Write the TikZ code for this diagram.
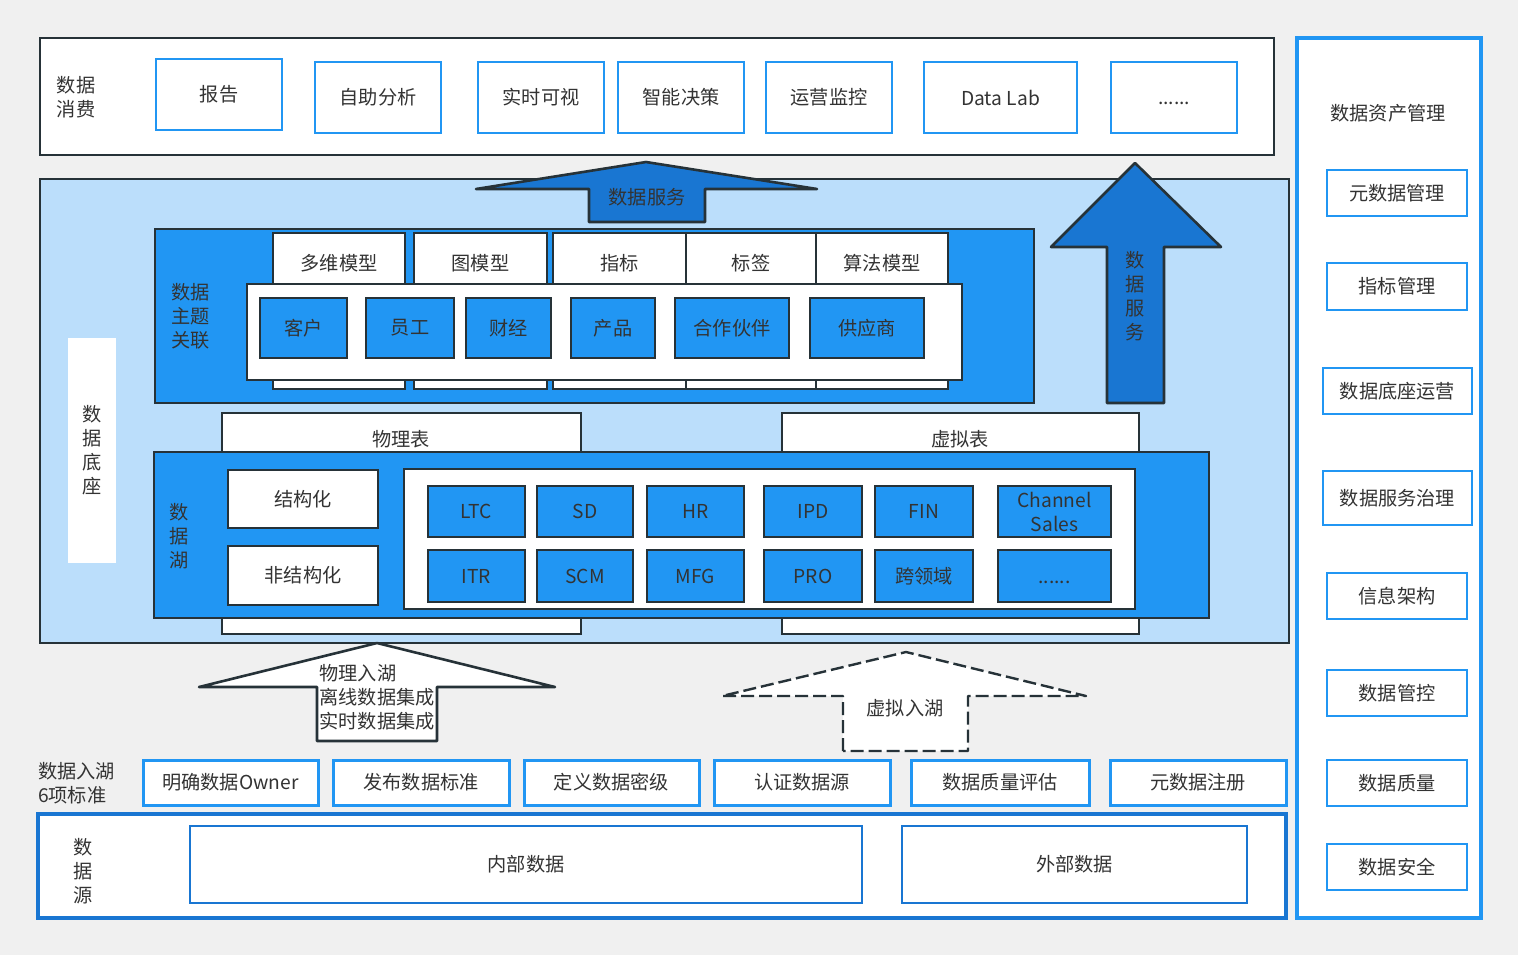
\documentclass[tikz,border=0pt]{standalone}
\usepackage{fontspec}
\setmainfont{Noto Sans CJK SC}
\definecolor{bgGray}{HTML}{F0F0F0}
\definecolor{paleBlue}{HTML}{BBDEFB}
\definecolor{midBlue}{HTML}{2196F3}
\definecolor{deepBlue}{HTML}{1976D2}
\definecolor{edgeDark}{HTML}{263238}
\definecolor{txtGray}{HTML}{333333}
\newcommand\moredots{\vphantom{数}......}
\tikzset{wh/.style 2 args={minimum width=#1*0.5pt, minimum height=#2*0.5pt}}

\begin{document}
\begin{tikzpicture}[x=0.5pt, y=-0.5pt, font=\fontsize{9.6}{12}\selectfont,
	every node/.style={text=txtGray, align=center, inner sep=0pt},
	darkbox/.style={draw=edgeDark, line width=1.3pt, fill=white},
	bluebox/.style={draw=edgeDark, line width=1.3pt, fill=midBlue},
	thinbox/.style={draw=midBlue, line width=1pt, fill=white},
	stdbox/.style={draw=midBlue, line width=1.5pt, fill=white},
	srcbox/.style={draw=deepBlue, line width=1pt, fill=white},
	blockarrow/.style={draw=edgeDark, line width=1.3pt, line join=round}]
	\fill[bgGray] (0,0) rectangle (1518,955);
	\useasboundingbox (0,0) rectangle (1518,955);

	\node[darkbox, wh={1234}{117}] (consumeLayer) at (657,96.5) {};
	\node[align=left] (consumeLbl) at (76,97) {数据\\消费};
	\node[thinbox, wh={126}{71}] (report) at (219,94.5) {报告};
	\node[thinbox, wh={126}{71}] (selfAna) at (378,97.5) {自助分析};
	\node[thinbox, wh={126}{71}] (realView) at (541,97.5) {实时可视};
	\node[thinbox, wh={126}{71}] (smartDec) at (681,97.5) {智能决策};
	\node[thinbox, wh={126}{71}] (opsMon) at (829,97.5) {运营监控};
	\node[thinbox, wh={153}{71}] (dataLab) at (1000.5,97.5) {Data Lab};
	\node[thinbox, wh={126}{71}] (moreUse) at (1174,97.5) {\moredots};

	\node[draw=midBlue, line width=1.6pt, fill=white, wh={184}{880}] (assetMgmt) at (1389,478) {};
	\node (assetLbl) at (1388,113) {数据资产管理};
	\node[thinbox, wh={140}{46}] (metaMgmt) at (1397,193) {元数据管理};
	\node[thinbox, wh={140}{47}] (kpiMgmt) at (1397,286.5) {指标管理};
	\node[thinbox, wh={149}{46}] (baseOps) at (1397.5,391) {数据底座运营};
	\node[thinbox, wh={149}{54}] (svcGov) at (1397.5,498) {数据服务治理};
	\node[thinbox, wh={140}{46}] (infoArch) at (1397,596) {信息架构};
	\node[thinbox, wh={140}{46}] (dataCtl) at (1397,693) {数据管控};
	\node[thinbox, wh={140}{46}] (dataQual) at (1397,783) {数据质量};
	\node[thinbox, wh={140}{46}] (dataSec) at (1397,867) {数据安全};

	\node[darkbox, fill=paleBlue, wh={1249}{464}] (baseLayer) at (664.5,411) {};
	\node[fill=white, wh={48}{225}] (baseLbl) at (92,450.5) {数\\据\\底\\座};

	\node[bluebox, wh={879}{174}] (topicBlock) at (594.5,316) {};
	\node (topicLbl) at (190.5,316.5) {数据\\主题\\关联};
	\node[darkbox, wh={132}{156}] (tabDim) at (339,311) {};
	\node[darkbox, wh={133}{156}] (tabGraph) at (480.5,311) {};
	\node[darkbox, wh={133}{156}] (tabKpi) at (619.5,311) {};
	\node[darkbox, wh={130}{156}] (tabTag) at (751,311) {};
	\node[darkbox, wh={132}{156}] (tabAlgo) at (882,311) {};
	\node (tabDimTxt) at (339,263) {多维模型};
	\node (tabGraphTxt) at (480.5,263) {图模型};
	\node (tabKpiTxt) at (619.5,263) {指标};
	\node (tabTagTxt) at (751,263) {标签};
	\node (tabAlgoTxt) at (882,263) {算法模型};
	\node[darkbox, wh={715}{96}] (topicInner) at (604.5,332) {};
	\node[bluebox, wh={87}{60}] (customer) at (303.5,328) {客户};
	\node[bluebox, wh={88}{60}] (staff) at (410,328) {员工};
	\node[bluebox, wh={85}{60}] (finance) at (508.5,328) {财经};
	\node[bluebox, wh={84}{60}] (product) at (613,328) {产品};
	\node[bluebox, wh={114}{60}] (partner) at (732,328) {合作伙伴};
	\node[bluebox, wh={114}{60}] (supplier) at (867,328) {供应商};

	\draw[blockarrow, fill=deepBlue] (589,222) -- (589,189) -- (476,189) -- (646,162) -- (817,189) -- (705,189) -- (705,222) -- cycle;
	\node (svcTop) at (647,197) {数据服务};
	\draw[blockarrow, fill=deepBlue] (1107,403) -- (1107,247) -- (1051,247) -- (1135,163) -- (1221,247) -- (1164,247) -- (1164,403) -- cycle;
	\node (svcSide) at (1135,296.5) {数\\据\\服\\务};

	\node[darkbox, wh={359}{221}] (physTab) at (401.5,523.5) {};
	\node[darkbox, wh={357}{221}] (virtTab) at (960.5,523.5) {};
	\node (physTabTxt) at (401,439) {物理表};
	\node (virtTabTxt) at (960,439) {虚拟表};
	\node[bluebox, wh={1055}{166}] (lakeBlock) at (681.5,535) {};
	\node (lakeLbl) at (179,536) {数\\据\\湖};
	\node[darkbox, wh={150}{58}] (structured) at (303,499) {结构化};
	\node[darkbox, wh={150}{59}] (unstructured) at (303,575.5) {非结构化};
	\node[darkbox, wh={731}{140}] (lakeInner) at (769.5,539) {};
	\foreach \cx/\w/\up/\dn/\n in {476.5/97/LTC/ITR/ltc, 585/96/SD/SCM/sd, 695.5/97/HR/MFG/hr,
		813/98/IPD/PRO/ipd, 924/98/FIN/跨领域/fin, 1054.5/113/{Channel\\Sales}/\moredots/chs} {
		\node[bluebox, wh={\w}{51}] (\n-up) at (\cx,511.5) {\up};
		\node[bluebox, wh={\w}{52}] (\n-dn) at (\cx,576) {\dn};
	}

	\draw[blockarrow, fill=white] (317,741) -- (317,687) -- (199,687) -- (377,643) -- (555,687) -- (437,687) -- (437,741) -- cycle;
	\node[align=left] (physIn) at (377,697) {物理入湖\\离线数据集成\\实时数据集成};
	\draw[blockarrow, fill=white, line width=1.2pt, dash pattern=on 6.5pt off 2.5pt] (843,751) -- (843,696) -- (722,696) -- (906,652) -- (1086,696) -- (968,696) -- (968,751) -- cycle;
	\node (virtIn) at (905,708) {虚拟入湖};

	\node[align=left] (stdLbl) at (76.5,783) {数据入湖\\6项标准};
	\node[stdbox, wh={175}{45}] (stdOwner) at (230.5,782.5) {明确数据Owner};
	\node[stdbox, wh={176}{45}] (stdPub) at (421,782.5) {发布数据标准};
	\node[stdbox, wh={175}{45}] (stdLevel) at (611.5,782.5) {定义数据密级};
	\node[stdbox, wh={176}{45}] (stdSrc) at (802,782.5) {认证数据源};
	\node[stdbox, wh={178}{45}] (stdQual) at (1000,782.5) {数据质量评估};
	\node[stdbox, wh={176}{45}] (stdMeta) at (1198,782.5) {元数据注册};

	\node[draw=deepBlue, line width=1.6pt, fill=white, wh={1248}{104}] (srcLayer) at (662,866) {};
	\node (srcLbl) at (83,871) {数\\据\\源};
	\node[srcbox, wh={672}{77}] (innerData) at (526,864.5) {内部数据};
	\node[srcbox, wh={345}{77}] (outerData) at (1074.5,864.5) {外部数据};
\end{tikzpicture}
\end{document}
